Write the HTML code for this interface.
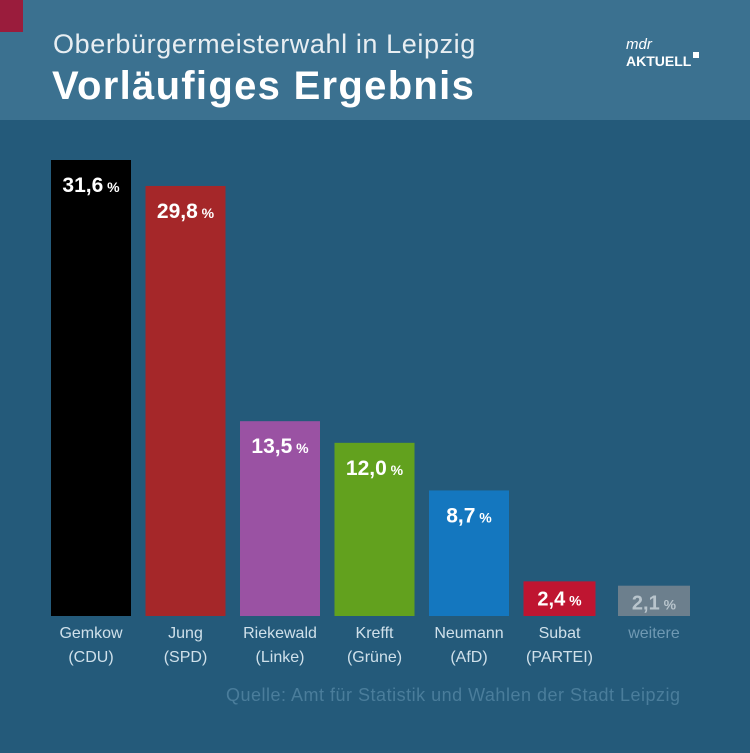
<!DOCTYPE html>
<html><head><meta charset="utf-8"><style>
body{margin:0;width:750px;height:753px;overflow:hidden;background:#245a7a;font-family:"Liberation Sans",sans-serif}
#hdr{position:absolute;left:0;top:0;width:750px;height:120px;background:#3b7190}
</style></head><body>
<div id="hdr"></div>
<div style="position:absolute;left:0;top:0;width:23px;height:32px;background:#9a1c3c"></div>
<div style="position:absolute;left:53px;top:29px;font-size:27px;color:#e8eef2;letter-spacing:0.6px">Oberbürgermeisterwahl in Leipzig</div>
<div style="position:absolute;left:52px;top:64px;font-size:40px;font-weight:bold;color:#fff;letter-spacing:1.3px">Vorläufiges Ergebnis</div>
<div style="position:absolute;left:626px;top:38px;color:#fff;font-weight:bold">
<div style="font-size:15px;font-style:italic;font-weight:normal;line-height:14px">mdr</div>
<div style="font-size:14px;line-height:18px">AKTUELL<span style="display:inline-block;width:6px;height:6px;background:#fff;vertical-align:top;margin-left:2px"></span></div></div>
<svg id="chart" width="750" height="753" style="position:absolute;left:0;top:0"></svg>
<div style="position:absolute;left:226px;top:685px;font-size:18px;color:#4a7d9b;letter-spacing:0.5px">Quelle: Amt für Statistik und Wahlen der Stadt Leipzig</div>
<script>
const names=["Gemkow","Jung","Riekewald","Krefft","Neumann","Subat","weitere"];
const parties=["(CDU)","(SPD)","(Linke)","(Grüne)","(AfD)","(PARTEI)",""];
const values=[31.6,29.8,13.5,12.0,8.7,2.4,2.1];
const colors=["#000000","#a52729","#9a52a3","#62a11e","#1477bf","#bf1531","#6c7f8d"];
const NS="http://www.w3.org/2000/svg",svg=document.getElementById('chart');
const base=616,scale=456/31.6;
const y=v=>base-v*scale;
const xPos=i=>51+i*94.5;
const bw=i=>i>=5?72:80;
function mk(t,a){const e=document.createElementNS(NS,t);for(const k in a)e.setAttribute(k,a[k]);svg.appendChild(e);return e;}
values.forEach((v,i)=>{
 const small=i>=5;
 const r=mk('rect',{x:xPos(i),y:y(v),width:bw(i),height:base-y(v),fill:colors[i]});
 
 
 const t=mk('text',{x:xPos(i)+bw(i)/2,y:small?y(v)+24:y(v)+32,'text-anchor':'middle',fill:i==6?'#b8c4cc':'#fff','font-size':small?20:21,'font-weight':'bold'});
 t.textContent=v.toFixed(1).replace('.',',');
 const s=document.createElementNS(NS,'tspan');s.setAttribute('font-size','14');s.textContent=' %';t.appendChild(s);
 
 
 const c=i==6?'#6f99b3':'#cfe0ea';
 const n=mk('text',{x:xPos(i)+bw(i)/2,y:638,'text-anchor':'middle',fill:c,'font-size':16});
 n.textContent=names[i];
 
 
 if(parties[i]){const p=mk('text',{x:xPos(i)+bw(i)/2,y:662,'text-anchor':'middle',fill:c,'font-size':16});
 p.textContent=parties[i];
 
 }
});
</script>
</body></html>
